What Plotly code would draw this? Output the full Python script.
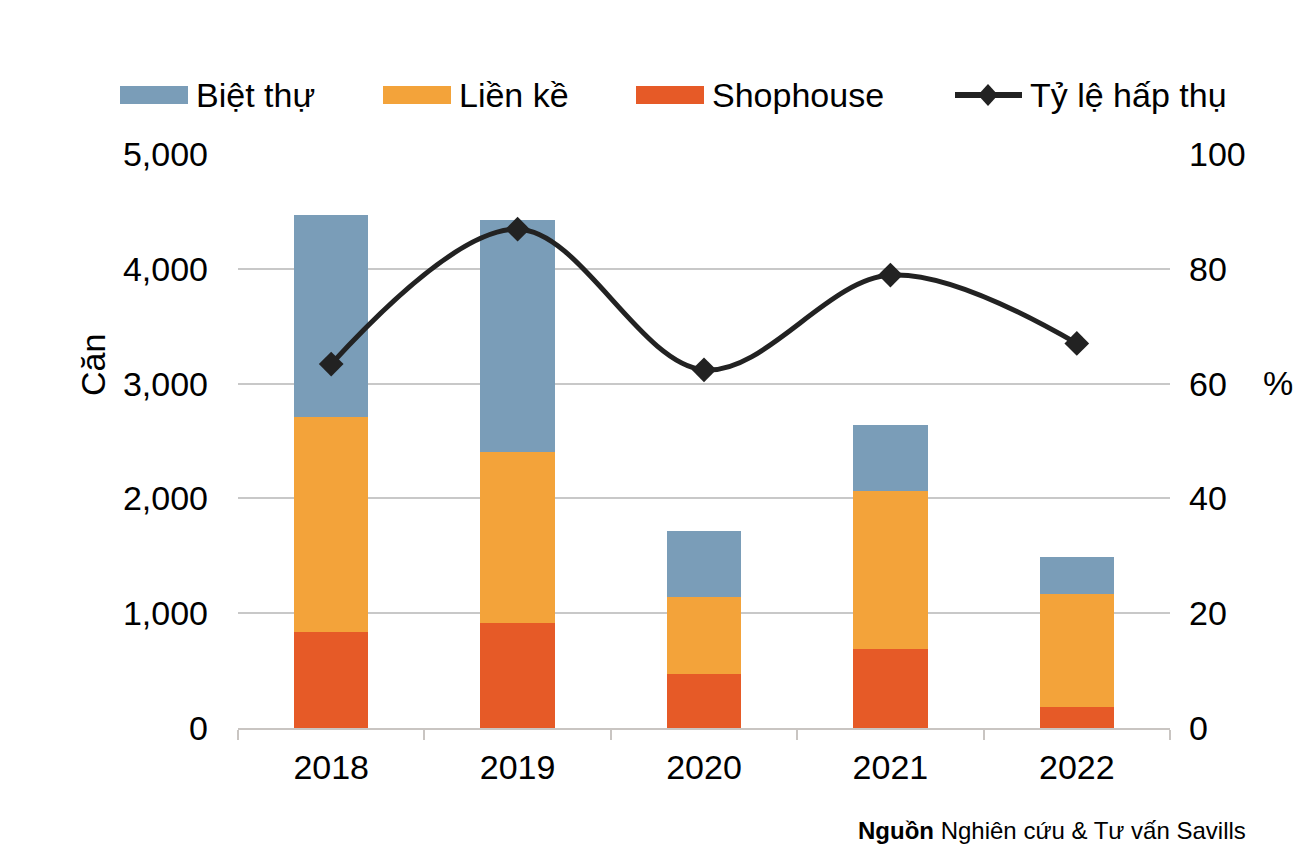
import plotly.graph_objects as go
from plotly.subplots import make_subplots

years = ["2018", "2019", "2020", "2021", "2022"]
shophouse = [840, 915, 470, 690, 185]
lien_ke = [1870, 1490, 670, 1375, 985]
biet_thu = [1760, 2020, 575, 575, 320]
ty_le = [63.4, 86.9, 62.4, 78.9, 67.0]

FONT = "Liberation Sans, Arial, sans-serif"
C_BT, C_LK, C_SH, C_LINE = "#7A9DB8", "#F3A33A", "#E65A27", "#222222"

# page offset (default body margin) and figure size
O = 8
W, H = 1304 - O, 855 - O
# plot area in screenshot pixels
L, R, T, B = 238, 1170, 154, 728
def px(x):
    return (x - L) / (R - L)
def py(y):
    return (B - y) / (B - T)

fig = make_subplots(specs=[[{"secondary_y": True}]])
fig.add_trace(go.Bar(x=years, y=shophouse, name="Shophouse", marker_color=C_SH,
                     marker_line_width=0), secondary_y=False)
fig.add_trace(go.Bar(x=years, y=lien_ke, name="Liền kề", marker_color=C_LK,
                     marker_line_width=0), secondary_y=False)
fig.add_trace(go.Bar(x=years, y=biet_thu, name="Biệt thự", marker_color=C_BT,
                     marker_line_width=0), secondary_y=False)
fig.add_trace(go.Scatter(x=years, y=ty_le, name="Tỷ lệ hấp thụ", mode="lines+markers",
                         line=dict(color=C_LINE, width=5, shape="spline", smoothing=1.0),
                         marker=dict(symbol="diamond", size=19, color=C_LINE)),
              secondary_y=True)

fig.update_layout(
    width=W, height=H,
    barmode="stack", bargap=0.6,
    plot_bgcolor="white", paper_bgcolor="white",
    margin=dict(l=L - O, r=W - (R - O), t=T - O, b=H - (B - O), autoexpand=False),
    font=dict(family=FONT, size=34, color="#000"),
    showlegend=False,
)
fig.update_xaxes(domain=[0, 1], showline=True, linecolor="#C9C5C2", linewidth=2,
                 ticks="outside", tickson="boundaries", ticklen=10, tickcolor="#C9C5C2",
                 tickwidth=2, tickfont=dict(size=34), showgrid=False,
                 ticklabelstandoff=8, automargin=False)
fig.update_yaxes(range=[0, 5000], tickvals=[0, 1000, 2000, 3000, 4000, 5000],
                 tickformat=",", showgrid=True, gridcolor="#C8C8C8", gridwidth=2,
                 zeroline=False, ticklabelstandoff=29, automargin=False,
                 secondary_y=False)
fig.update_yaxes(range=[0, 100], tickvals=[0, 20, 40, 60, 80, 100], showgrid=False,
                 zeroline=False, ticklabelstandoff=18, automargin=False,
                 secondary_y=True)

# axis titles
fig.add_annotation(text="Căn", xref="paper", yref="paper", x=px(93), y=py(365),
                   textangle=-90, showarrow=False, font=dict(size=34),
                   xanchor="center", yanchor="middle")
fig.add_annotation(text="%", xref="paper", yref="paper", x=px(1278), y=py(383),
                   showarrow=False, font=dict(size=34), xanchor="center", yanchor="middle")

# custom legend
LEG_Y = 95
for sx, color, label in [(120, C_BT, "Biệt thự"), (383, C_LK, "Liền kề"), (636, C_SH, "Shophouse")]:
    fig.add_shape(type="rect", xref="paper", yref="paper",
                  x0=px(sx), x1=px(sx + 68), y0=py(LEG_Y + 9), y1=py(LEG_Y - 9),
                  fillcolor=color, line_width=0)
    fig.add_annotation(text=label, xref="paper", yref="paper", x=px(sx + 74), y=py(LEG_Y),
                       showarrow=False, font=dict(size=34), xanchor="left", yanchor="middle")
fig.add_shape(type="line", xref="paper", yref="paper", x0=px(955), x1=px(1022),
              y0=py(LEG_Y), y1=py(LEG_Y), line=dict(color=C_LINE, width=6))
fig.add_shape(type="path", xref="paper", yref="paper",
              path=f"M {px(988)} {py(LEG_Y - 11)} L {px(998)} {py(LEG_Y)} "
                   f"L {px(988)} {py(LEG_Y + 11)} L {px(978)} {py(LEG_Y)} Z",
              fillcolor=C_LINE, line_width=0)
fig.add_annotation(text="Tỷ lệ hấp thụ", xref="paper", yref="paper", x=px(1028), y=py(LEG_Y),
                   showarrow=False, font=dict(size=34), xanchor="left", yanchor="middle")

fig.add_annotation(text="<b>Nguồn</b> Nghiên cứu & Tư vấn Savills", xref="paper", yref="paper",
                   x=px(1248), y=py(830), showarrow=False,
                   font=dict(size=24), xanchor="right", yanchor="middle")

fig.write_html("out.html")
